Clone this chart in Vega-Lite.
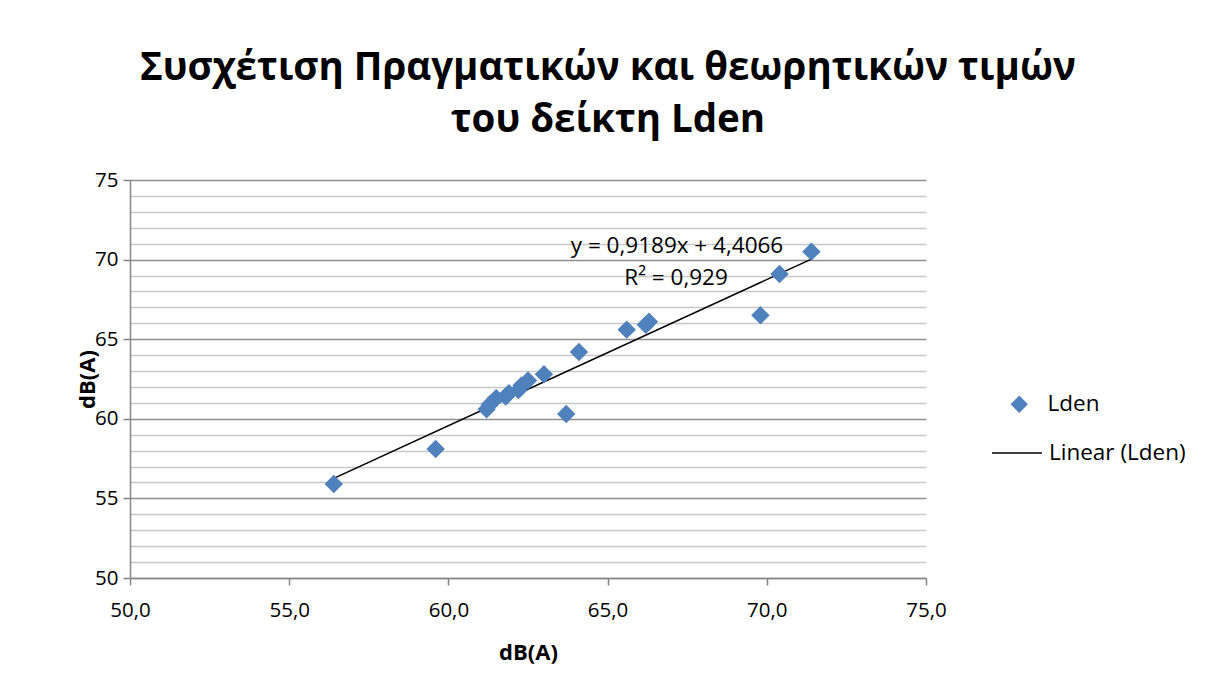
{
  "$schema": "https://vega.github.io/schema/vega-lite/v6.json",
  "width": 796,
  "height": 398,
  "autosize": {"type": "none"},
  "padding": {"left": 130, "top": 180, "right": 280, "bottom": 117},
  "background": "white",
  "config": {"view": {"stroke": null}, "font": "Open Sans"},
  "title": {
    "text": ["Συσχέτιση Πραγματικών και θεωρητικών τιμών", "του δείκτη Lden"],
    "font": "Open Sans",
    "fontSize": 38.5,
    "fontWeight": "bold",
    "color": "#000000",
    "anchor": "middle",
    "frame": "group",
    "dx": 80,
    "offset": 30,
    "lineHeight": 52
  },
  "datasets": {
    "points": [
      {"x": 56.4, "y": 55.9, "series": "Lden", "trend": "Linear (Lden)"},
      {"x": 59.6, "y": 58.1, "series": "Lden", "trend": "Linear (Lden)"},
      {"x": 61.2, "y": 60.6, "series": "Lden", "trend": "Linear (Lden)"},
      {"x": 61.3, "y": 60.9, "series": "Lden", "trend": "Linear (Lden)"},
      {"x": 61.5, "y": 61.3, "series": "Lden", "trend": "Linear (Lden)"},
      {"x": 61.8, "y": 61.4, "series": "Lden", "trend": "Linear (Lden)"},
      {"x": 61.9, "y": 61.6, "series": "Lden", "trend": "Linear (Lden)"},
      {"x": 62.2, "y": 61.8, "series": "Lden", "trend": "Linear (Lden)"},
      {"x": 62.3, "y": 62.1, "series": "Lden", "trend": "Linear (Lden)"},
      {"x": 62.5, "y": 62.4, "series": "Lden", "trend": "Linear (Lden)"},
      {"x": 63.0, "y": 62.8, "series": "Lden", "trend": "Linear (Lden)"},
      {"x": 63.7, "y": 60.3, "series": "Lden", "trend": "Linear (Lden)"},
      {"x": 64.1, "y": 64.2, "series": "Lden", "trend": "Linear (Lden)"},
      {"x": 65.6, "y": 65.6, "series": "Lden", "trend": "Linear (Lden)"},
      {"x": 66.2, "y": 65.9, "series": "Lden", "trend": "Linear (Lden)"},
      {"x": 66.3, "y": 66.1, "series": "Lden", "trend": "Linear (Lden)"},
      {"x": 69.8, "y": 66.5, "series": "Lden", "trend": "Linear (Lden)"},
      {"x": 70.4, "y": 69.1, "series": "Lden", "trend": "Linear (Lden)"},
      {"x": 71.4, "y": 70.5, "series": "Lden", "trend": "Linear (Lden)"}
    ],
    "labels": [
      {"x": 67.18, "y": 70.4, "label": "y = 0,9189x + 4,4066"},
      {"x": 67.15, "y": 68.4, "label": "R² = 0,929"}
    ]
  },
  "layer": [
    {
      "data": {"name": "points"},
      "transform": [{"regression": "y", "on": "x", "groupby": ["trend"]}],
      "mark": {"type": "line", "strokeWidth": 1.5},
      "encoding": {
        "x": {"field": "x", "type": "quantitative", "scale": {"domain": [50, 75], "nice": false, "zero": false}},
        "y": {"field": "y", "type": "quantitative", "scale": {"domain": [50, 75], "nice": false, "zero": false}},
        "stroke": {
          "field": "trend", "type": "nominal",
          "scale": {"domain": ["Linear (Lden)"], "range": ["#000000"]},
          "legend": {
            "orient": "none", "legendX": 861, "legendY": 247, "title": null,
            "symbolType": "stroke", "symbolSize": 2500, "symbolStrokeWidth": 1.5, "symbolStrokeColor": "#000000",
            "labelFontSize": 22.5, "labelFont": "Open Sans", "labelColor": "#000000", "labelOffset": 6
          }
        }
      }
    },
    {
      "data": {"name": "points"},
      "mark": {"type": "point", "shape": "diamond", "filled": true, "opacity": 1, "size": 340, "strokeWidth": 0},
      "encoding": {
        "x": {
          "field": "x", "type": "quantitative",
          "scale": {"domain": [50, 75], "nice": false, "zero": false},
          "axis": {
            "values": [50, 55, 60, 65, 70, 75],
            "tickCount": 30,
            "grid": false,
            "labelFlush": false,
            "labelOverlap": false,
            "domainColor": "#868686", "domainWidth": 1.5,
            "tickColor": "#868686", "tickWidth": 1.5, "tickSize": 7,
            "labelExpr": "replace(format(datum.value, '.1f'), '.', ',')",
            "labelFontSize": 20.5, "labelColor": "#000000", "labelPadding": 15, "labelFont": "Open Sans",
            "title": "dB(A)", "titleFontSize": 22, "titleFontWeight": "bold", "titleColor": "#000000", "titlePadding": 22, "titleFont": "Open Sans"
          }
        },
        "y": {
          "field": "y", "type": "quantitative",
          "scale": {"domain": [50, 75], "nice": false, "zero": false},
          "axis": {
            "values": [50,51,52,53,54,55,56,57,58,59,60,61,62,63,64,65,66,67,68,69,70,71,72,73,74,75],
            "tickCount": 30,
            "grid": true,
            "labelOverlap": false,
            "labelFlush": false,
            "labelBound": false,
            "gridColor": {"condition": {"test": "datum.value % 5 === 0", "value": "#8f8f8f"}, "value": "#c8c8c8"},
            "gridWidth": 1.5,
            "domainColor": "#868686", "domainWidth": 1.5,
            "tickColor": {"condition": {"test": "datum.value % 5 === 0", "value": "#868686"}, "value": "transparent"},
            "tickWidth": 1.5, "tickSize": 7,
            "labelExpr": "datum.value % 5 === 0 ? format(datum.value, 'd') : ''",
            "labelFontSize": 20.5, "labelColor": "#000000", "labelPadding": 5, "labelFont": "Open Sans",
            "title": "dB(A)", "titleFontSize": 22, "titleFontWeight": "bold", "titleColor": "#000000", "titleX": -31, "titleFont": "Open Sans"
          }
        },
        "fill": {
          "field": "series", "type": "nominal",
          "scale": {"domain": ["Lden"], "range": ["#4F81BD"]},
          "legend": {
            "orient": "none", "legendX": 878, "legendY": 213, "title": null,
            "symbolType": "diamond", "symbolSize": 300, "symbolOpacity": 1, "symbolStrokeWidth": 0,
            "labelFontSize": 22.5, "labelFont": "Open Sans", "labelColor": "#000000", "labelOffset": 17
          }
        }
      }
    },
    {
      "data": {"name": "labels"},
      "mark": {"type": "text", "fontSize": 22.5, "font": "Open Sans", "color": "#000000", "align": "center", "baseline": "alphabetic"},
      "encoding": {
        "x": {"field": "x", "type": "quantitative"},
        "y": {"field": "y", "type": "quantitative"},
        "text": {"field": "label"}
      }
    }
  ]
}
